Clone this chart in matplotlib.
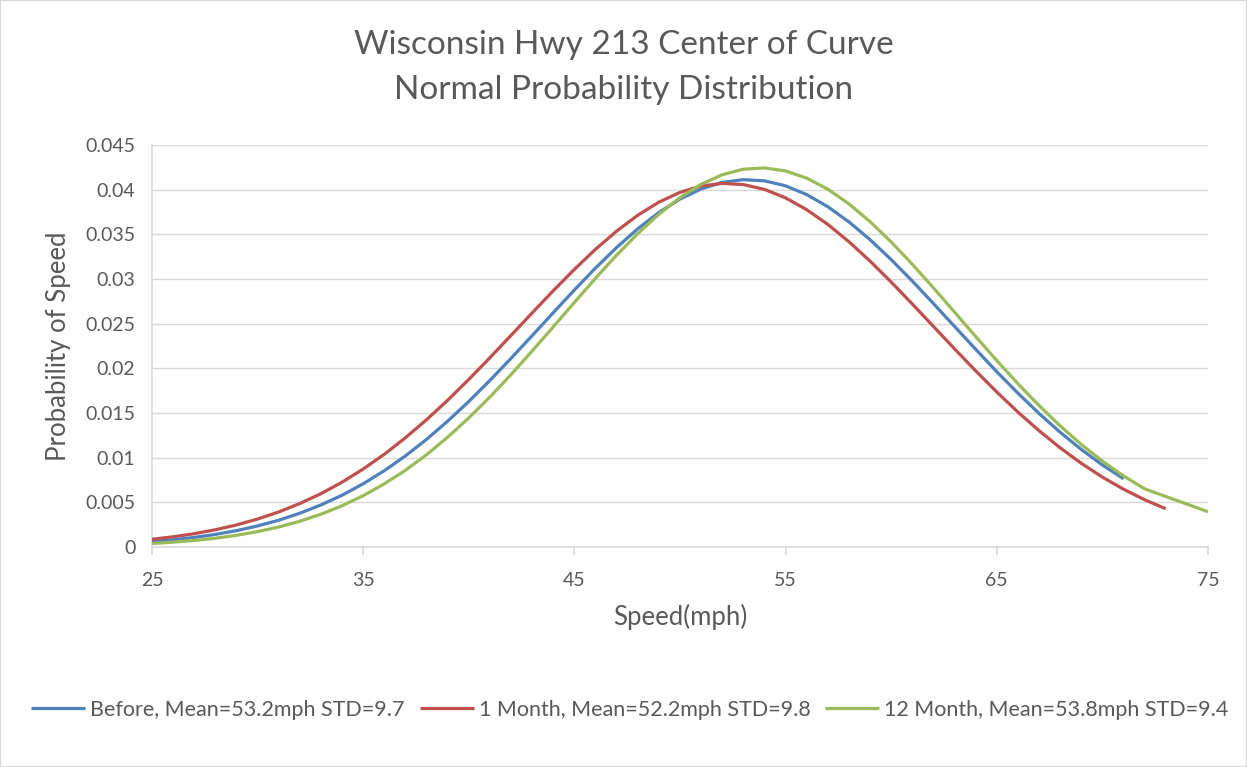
import matplotlib
matplotlib.use("Agg")
import matplotlib.pyplot as plt
from matplotlib.patches import Rectangle

plt.rcParams['font.family'] = ['Lato', 'DejaVu Sans']

# speed (mph) and probability for each survey period
before_speed = list(range(25, 72))
before_prob = [
    0.00060, 0.00081, 0.00107, 0.00141, 0.00183, 0.00236, 0.00300, 0.00378,
    0.00471, 0.00580, 0.00708, 0.00854, 0.01020, 0.01205, 0.01409, 0.01629,
    0.01865, 0.02112, 0.02366, 0.02623, 0.02877, 0.03123, 0.03353, 0.03562,
    0.03745, 0.03895, 0.04008, 0.04082, 0.04112, 0.04099, 0.04043, 0.03945,
    0.03809, 0.03639, 0.03440, 0.03217, 0.02977, 0.02725, 0.02469, 0.02213,
    0.01962, 0.01722, 0.01495, 0.01284, 0.01092, 0.00918, 0.00764,
]

month1_speed = list(range(25, 74))
month1_prob = [
    0.00087, 0.00114, 0.00149, 0.00193, 0.00247, 0.00313, 0.00392, 0.00487,
    0.00597, 0.00726, 0.00873, 0.01038, 0.01223, 0.01425, 0.01643, 0.01876,
    0.02119, 0.02369, 0.02620, 0.02869, 0.03108, 0.03333, 0.03536, 0.03714,
    0.03860, 0.03970, 0.04041, 0.04070, 0.04057, 0.04003, 0.03908, 0.03776,
    0.03611, 0.03417, 0.03200, 0.02966, 0.02720, 0.02469, 0.02218, 0.01972,
    0.01735, 0.01510, 0.01302, 0.01110, 0.00937, 0.00782, 0.00647, 0.00529,
    0.00428,
]

month12_speed = list(range(25, 73)) + [75]
month12_prob = [
    0.00039, 0.00054, 0.00073, 0.00098, 0.00131, 0.00172, 0.00224, 0.00288,
    0.00367, 0.00462, 0.00574, 0.00707, 0.00859, 0.01033, 0.01229, 0.01445,
    0.01679, 0.01930, 0.02194, 0.02465, 0.02738, 0.03008, 0.03267, 0.03508,
    0.03725, 0.03911, 0.04060, 0.04167, 0.04229, 0.04243, 0.04210, 0.04129,
    0.04005, 0.03841, 0.03642, 0.03415, 0.03165, 0.02901, 0.02629, 0.02356,
    0.02087, 0.01828, 0.01584, 0.01356, 0.01148, 0.00961, 0.00796, 0.00651,
    0.00395,
]

labels = [
    "Before, Mean=53.2mph STD=9.7",
    "1 Month, Mean=52.2mph STD=9.8",
    "12 Month, Mean=53.8mph STD=9.4",
]
colors = ["#4F81BD", "#C0504D", "#9BBB59"]

text_color = "#595959"
grid_color = "#D9D9D9"

fig = plt.figure(figsize=(12.47, 7.67), dpi=100)
ax = fig.add_axes([152 / 1247, 1 - 547 / 767, (1208 - 152) / 1247, (547 - 145) / 767])

series = [(before_speed, before_prob), (month1_speed, month1_prob), (month12_speed, month12_prob)]
for (xs, ys), lab, col in zip(series, labels, colors):
    ax.plot(xs, ys, color=col, lw=2.3, label=lab, solid_capstyle='butt', zorder=3)

ax.set_xlim(25, 75)
ax.set_ylim(0, 0.045)
ax.set_xticks(range(25, 76, 10))
ax.set_yticks([i * 0.005 for i in range(10)])
ax.set_yticklabels(["0"] + ["%g" % (i * 0.005) for i in range(1, 10)])

ax.grid(axis='y', color=grid_color, lw=1.0, zorder=0)
ax.grid(axis='x', visible=False)
for side in ['top', 'right']:
    ax.spines[side].set_visible(False)
for side in ['left', 'bottom']:
    ax.spines[side].set_color(grid_color)
    ax.spines[side].set_linewidth(1.2)
ax.tick_params(axis='x', direction='out', length=6, color=grid_color, width=1.2,
               labelsize=14, labelcolor=text_color, pad=12)
ax.tick_params(axis='y', length=0, labelsize=14, labelcolor=text_color, pad=12)

ax.set_xlabel("Speed(mph)", fontsize=18.5, color=text_color, labelpad=11)
ax.set_ylabel("Probability of Speed", fontsize=18.5, color=text_color, labelpad=10)

fig.text(0.5, 1 - 45 / 767, "Wisconsin Hwy 213 Center of Curve", ha='center', va='center',
         fontsize=24, color=text_color)
fig.text(0.5, 1 - 90 / 767, "Normal Probability Distribution", ha='center', va='center',
         fontsize=24, color=text_color)

fig.legend(loc='center', bbox_to_anchor=(0.5052, 1 - 710 / 767), ncol=3, frameon=False,
           fontsize=15.5, labelcolor=text_color, handlelength=2.5, handletextpad=0.23,
           columnspacing=0.7)

fig.patches.append(Rectangle((0, 0), 1, 1, transform=fig.transFigure, fill=False,
                             edgecolor=grid_color, lw=1.5))

fig.savefig("out.png", dpi=100)
